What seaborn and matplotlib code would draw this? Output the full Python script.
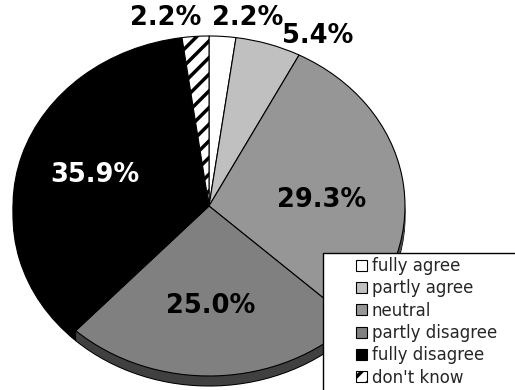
import numpy as np
import matplotlib
matplotlib.use("Agg")
import matplotlib.pyplot as plt
import seaborn as sns
from matplotlib.patches import Rectangle
from matplotlib.colors import to_rgb

# Survey answers, clockwise from 12 o'clock
categories = ["fully agree", "partly agree", "neutral", "partly disagree",
              "fully disagree", "don't know"]
shares = [2.2, 5.4, 29.3, 25.0, 35.9, 2.2]
face_colors = ["#ffffff", "#c0c0c0", "#969696", "#808080", "#000000", "#ffffff"]
hatches = [None, None, None, None, None, "//"]
label_colors = ["black", "black", "black", "black", "white", "black"]

sns.set_theme(style="white")
plt.rcParams["font.family"] = ["DejaVu Sans"]
plt.rcParams["hatch.linewidth"] = 2.5

W, H = 515, 390
fig = plt.figure(figsize=(W / 100, H / 100), dpi=100)
ax = fig.add_axes([0, 0, 1, 1])

# ellipse geometry of the tilted pie (pixels)
RX, RY = 196, 170
CX, CY = 209, 206
DEPTH = 10 / RY

side_colors = [tuple(c * 0.5 for c in to_rgb(fc)) for fc in face_colors]

# side wall: stacked copies of the pie shifted downward
n_layers = 12
for k in range(n_layers):
    off = -DEPTH * (1 - k / n_layers)
    ax.pie(shares, colors=side_colors, startangle=90, counterclock=False,
           center=(0, off),
           wedgeprops=dict(edgecolor="black" if k == 0 else "none",
                           linewidth=0.8))

# top face
wedges, _ = ax.pie(shares, colors=face_colors, startangle=90, counterclock=False,
                   wedgeprops=dict(edgecolor="black", linewidth=0.8))
for w, h in zip(wedges, hatches):
    if h:
        w.set_hatch(h)

ax.set_aspect("auto")
ax.set_xlim(-CX / RX, (W - CX) / RX)
ax.set_ylim(-(H - CY) / RY, CY / RY)
ax.axis("off")

# percentage labels
vals = np.array(shares)
mid = np.cumsum(vals) - vals / 2
theta = np.deg2rad(90 - 360 * mid / vals.sum())
nudges = [(25, 11), (49, 1), (-3, -12), (-3, 2), (-2, 0), (-30, 11)]
for v, t, col, (dx, dy) in zip(vals, theta, label_colors, nudges):
    inside = v > 10
    r = 0.6 if inside else 1.0
    ax.annotate(f"{v:.1f}%", xy=(r * np.cos(t), r * np.sin(t)),
                xytext=(dx, dy), textcoords="offset pixels",
                ha="center", va="center" if inside else "baseline",
                fontsize=18.5, fontweight="bold", color=col,
                annotation_clip=False)

# legend box
frame = Rectangle((323 / W, -0.05), 0.6, (H - 253) / H + 0.05,
                  transform=fig.transFigure, facecolor="white",
                  edgecolor="black", linewidth=1.0, zorder=4)
fig.add_artist(frame)
fig.legend(wedges, categories, loc="upper left",
           bbox_to_anchor=(356 / W, 1 - 257 / H), frameon=False,
           borderpad=0, borderaxespad=0, handlelength=0.65, handleheight=0.65,
           handletextpad=0.3, labelspacing=0.26, fontsize=12)

fig.savefig("out.png", dpi=100)
